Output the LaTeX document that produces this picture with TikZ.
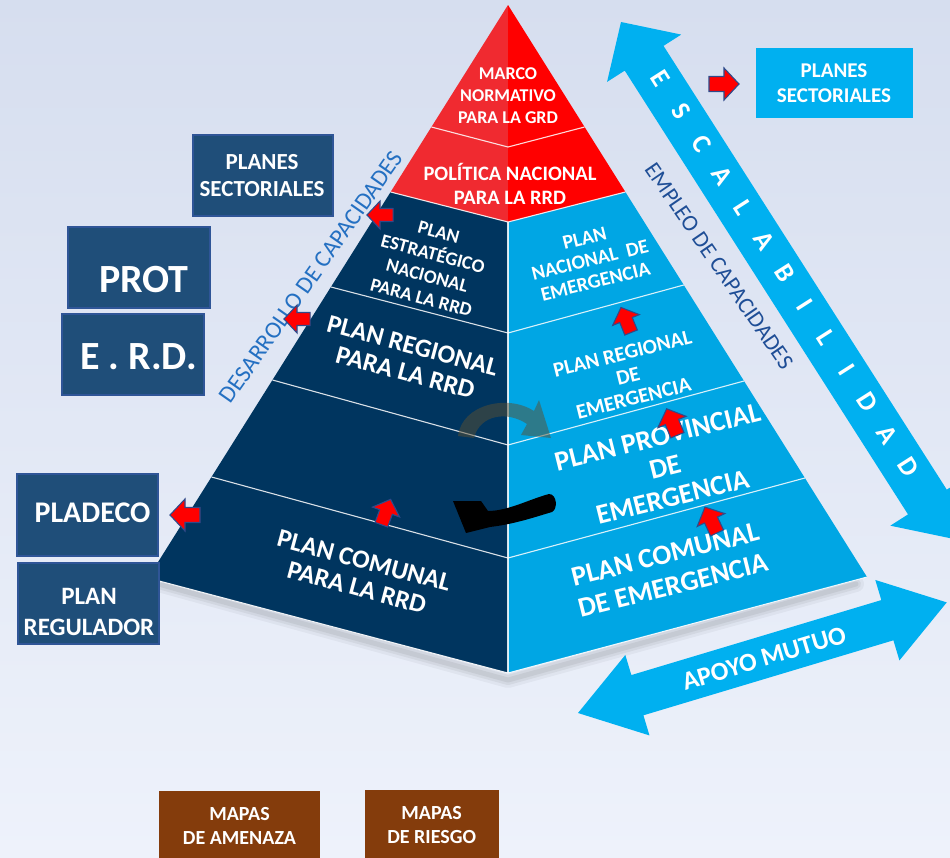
\documentclass[tikz,border=0pt]{standalone}
\usepackage{fontspec}
\setmainfont{Carlito}
\usetikzlibrary{calc}
\definecolor{bgtop}{HTML}{D6DEEF}
\definecolor{bgbot}{HTML}{EEF2FB}
\definecolor{navyface}{HTML}{00355F}
\definecolor{cyanface}{HTML}{00A6E4}
\definecolor{skyarrow}{HTML}{00B0F0}
\definecolor{redL}{HTML}{F02A30}
\definecolor{redR}{HTML}{FF0000}
\definecolor{boxnavy}{HTML}{1F4E79}
\definecolor{boxedge}{HTML}{2F5597}
\definecolor{mapbrown}{HTML}{843C0C}
\definecolor{desblue}{HTML}{2470C2}
\definecolor{empblue}{HTML}{1F4E96}
\definecolor{arredge}{HTML}{2F4A8A}
\definecolor{curvecol}{RGB}{90,80,50}
\newcommand{\setfs}[2]{\fontsize{#1}{#2}\selectfont}
\tikzset{
  ft/.style={text=white, align=center, inner sep=0pt},
  lbox/.style={fill=boxnavy, draw=boxedge, line width=1.5pt, inner sep=0pt},
  mbox/.style={fill=mapbrown, inner sep=0pt},
  sbox/.style={fill=skyarrow, inner sep=0pt},
  sepline/.style={draw=white, opacity=0.85, line width=1.1pt},
  redarr/.pic={\filldraw[fill=red, draw=arredge, line width=1.1pt, line join=miter]
     (-15,-7.5) -- (0,-7.5) -- (0,-16) -- (15,0) -- (0,16) -- (0,7.5) -- (-15,7.5) -- cycle;},
  esc/.style={text=white, inner sep=0pt, font=\bfseries\setfs{27}{27}},
}
\begin{document}
\begin{tikzpicture}[x=1pt,y=-1pt]
\useasboundingbox (0,0) rectangle (950,857);
\shade[top color=bgtop, bottom color=bgbot] (0,0) rectangle (950,857);

% shadow below the pyramid
\foreach \w/\o in {16/0.04,10/0.05,5/0.06}
  \draw[black, opacity=\o, line width=\w pt, line join=round, line cap=round] (162,585) -- (508,680) -- (856,584);

% pyramid geometry
\coordinate (A) at (508,5);
\coordinate (BL) at (148,578);
\coordinate (BR) at (867,577);
\coordinate (L1) at (431.4,127);
\coordinate (L2) at (390.6,192);
\coordinate (L3) at (330.9,287);
\coordinate (L4) at (272.5,380);
\coordinate (L5) at (211.6,477);
\coordinate (R1) at (584.6,127);
\coordinate (R2) at (625.4,192);
\coordinate (R3) at (683.7,285);
\coordinate (R4) at (744,381);
\coordinate (R5) at (804.9,478);
\coordinate (C1) at (508,147);
\coordinate (C2) at (508,222);
\coordinate (C3) at (508,333);
\coordinate (C4) at (508,445);
\coordinate (C5) at (508,558);
\coordinate (C6) at (508,673);

\fill[navyface] (L2) -- (C2) -- (C6) -- (BL) -- cycle;
\fill[cyanface] (C2) -- (R2) -- (BR) -- (C6) -- cycle;
\fill[redL] (A) -- (L2) -- (C2) -- cycle;
\fill[redR] (A) -- (C2) -- (R2) -- cycle;
\foreach \k in {1,...,5} \draw[sepline] (L\k) -- (C\k) -- (R\k);
\draw[sepline] (C2) -- (C6);
\draw[white, opacity=0.9, line width=1pt] (BL) -- (C6) -- (BR);

% pyramid texts
\node[ft, font=\bfseries\setfs{18}{22}] (marco) at (508,96) {MARCO\\NORMATIVO\\PARA LA GRD};
\node[ft, font=\bfseries\setfs{20.5}{24.5}] (pol) at (510,184) {POLÍTICA NACIONAL\\PARA LA RRD};
\node[ft, rotate=-15, font=\bfseries\setfs{19}{22.5}] (pen) at (430,265) {PLAN\\ESTRATÉGICO\\NACIONAL\\PARA LA RRD};
\node[ft, rotate=-15, font=\bfseries\setfs{26}{28}] (preg) at (409,359) {PLAN REGIONAL\\PARA LA RRD};
\node[ft, rotate=-15, font=\bfseries\setfs{26}{28}] (pcom) at (360.5,574) {PLAN COMUNAL\\PARA LA RRD};
\node[ft, rotate=14, font=\bfseries\setfs{20}{22.5}] (pne) at (590,260) {PLAN\\NACIONAL\ \ DE\\EMERGENCIA};
\node[ft, rotate=14, font=\bfseries\setfs{21}{23}] (pre) at (628,376) {PLAN REGIONAL\\DE\\EMERGENCIA};
\node[ft, rotate=14, font=\bfseries\setfs{28}{31}] (ppe) at (665,467) {PLAN PROVINCIAL\\DE\\EMERGENCIA};
\node[ft, rotate=14, font=\bfseries\setfs{28}{32}] (pce) at (669,570) {PLAN COMUNAL\\DE EMERGENCIA};

% side texts
\node[text=desblue, rotate=55, inner sep=0pt, font=\setfs{24}{24}] (des) at (311,277) {DESARROLLO DE CAPACIDADES};
\node[text=empblue, rotate=-55.5, inner sep=0pt, font=\setfs{23}{23}] (emp) at (719,266) {EMPLEO DE CAPACIDADES};

% curved arrows
\fill[curvecol, opacity=0.5] (458,436) .. controls (462,404) and (508,394) .. (534,411) -- (539,400) -- (551,438) -- (521,435) -- (527,424) .. controls (508,411) and (480,414) .. (474,438) -- cycle;
\fill[black] (549,494) .. controls (530,499) and (508,511) .. (488,511) -- (481,501) -- (453,501) -- (466,533) -- (490,527) .. controls (515,524) and (535,517) .. (552,512) .. controls (558,509) and (557,494) .. cycle;

% red block arrows
\pic[rotate=180, scale=0.87] at (380,215) {redarr};
\pic[rotate=180, scale=0.87] at (297,319) {redarr};
\pic[rotate=180] at (185,515) {redarr};
\pic[rotate=70, scale=0.9] at (386,512) {redarr};
\pic[rotate=112, scale=0.9] at (626,320) {redarr};
\pic[rotate=112, scale=0.95] at (672,422) {redarr};
\pic[rotate=115, scale=0.95] at (711,520) {redarr};
\pic at (724,84) {redarr};

% ESCALABILIDAD double arrow
\begin{scope}[shift={(621,22)}, rotate=-57.45]
  \fill[skyarrow] (0,0) -- (43,44) -- (43,23) -- (569.5,23) -- (569.5,44) -- (612.5,0)
     -- (569.5,-44) -- (569.5,-23) -- (43,-23) -- (43,-44) -- cycle;
\end{scope}
\begin{scope}[shift={(621,22)}, rotate=-57.45, transform shape]
  \foreach \l [count=\i] in {E,S,C,A,L,A,B,I,L,I,D,A,D}
    \node[esc] (esc\i) at ({69.3+(\i-1)*38.35},-3) {\l};
\end{scope}

% APOYO MUTUO double arrow
\begin{scope}[shift={(578,713)}, rotate=16.7]
  \fill[skyarrow] (0,0) -- (62,42) -- (62,21) -- (323,21) -- (323,42) -- (385,0)
     -- (323,-42) -- (323,-21) -- (62,-21) -- (62,-42) -- cycle;
\end{scope}
\begin{scope}[shift={(578,713)}, rotate=16.7, transform shape]
  \node[ft, font=\bfseries\setfs{26}{26}] (apoyo) at (194,1) {APOYO MUTUO};
\end{scope}

% left boxes
\node[lbox, minimum width=140pt, minimum height=81pt] (psbox) at (263,175.5) {};
\node[ft, font=\bfseries\setfs{23}{27}] (pstxt) at (262,176) {PLANES\\SECTORIALES};
\node[lbox, minimum width=142pt, minimum height=81pt] (protbox) at (139,267.5) {};
\node[ft, font=\bfseries\setfs{40}{40}] (prottxt) at (144,280) {PROT};
\node[lbox, minimum width=142pt, minimum height=81pt] (erdbox) at (133,354.5) {};
\node[ft, font=\bfseries\setfs{40}{40}] (erdtxt) at (138.5,357) {E . R.D.};
\node[lbox, minimum width=141pt, minimum height=82pt] (pladbox) at (87.5,515) {};
\node[ft, font=\bfseries\setfs{30}{30}] (pladtxt) at (92.5,512.5) {PLADECO};
\node[lbox, minimum width=141pt, minimum height=81pt] (pregbox) at (88.5,603.5) {};
\node[ft, font=\bfseries\setfs{25}{31}] (pregtxt) at (89,611.5) {PLAN\\REGULADOR};

% right box
\node[sbox, minimum width=157pt, minimum height=70pt] (psrbox) at (834.5,83) {};
\node[ft, font=\bfseries\setfs{21}{25}] (psrtxt) at (834,83.5) {PLANES\\SECTORIALES};

% brown boxes
\node[mbox, minimum width=161pt, minimum height=70pt] (mabox) at (239.5,826) {};
\node[ft, font=\bfseries\setfs{20}{24}] (matxt) at (239.5,826.3) {MAPAS\\DE AMENAZA};
\node[mbox, minimum width=134pt, minimum height=70pt] (mrbox) at (432,825) {};
\node[ft, font=\bfseries\setfs{20}{24}] (mrtxt) at (431.7,825) {MAPAS\\DE RIESGO};
\end{tikzpicture}
\end{document}
